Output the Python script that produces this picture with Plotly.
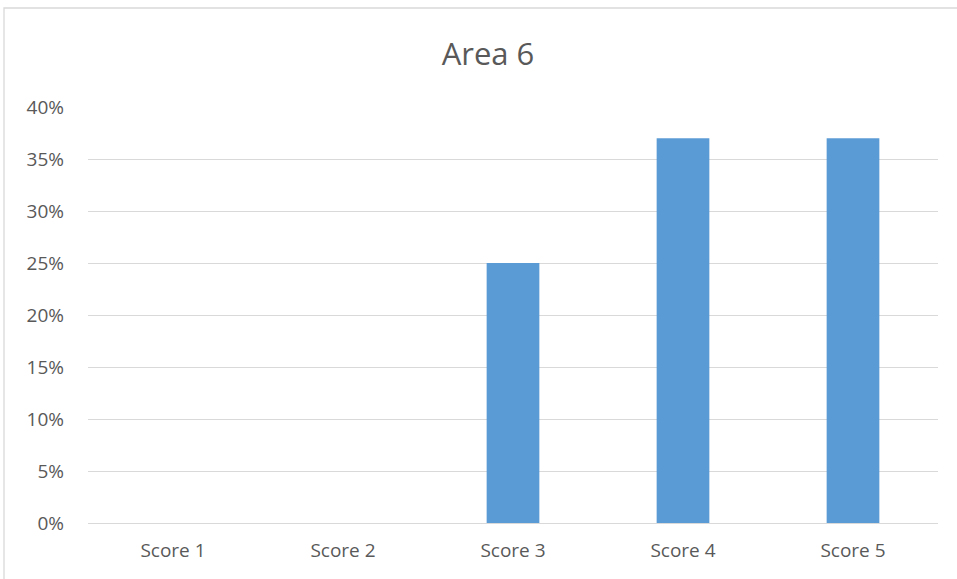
import plotly.graph_objects as go

categories = ["Score 1", "Score 2", "Score 3", "Score 4", "Score 5"]
values = [0.0, 0.0, 0.25, 0.37, 0.37]
tick_vals = [0, 0.05, 0.10, 0.15, 0.20, 0.25, 0.30, 0.35, 0.40]
tick_text = ["0%", "5%", "10%", "15%", "20%", "25%", "30%", "35%", "40%"]

W, H = 957, 579
L, R, T, B = 88, 19, 107, 56
pw, ph = W - L - R, H - T - B

def px(x):
    return (x - L) / pw

def py(y):
    return (H - B - y) / ph

fig = go.Figure(go.Bar(x=categories, y=values, marker=dict(color="#5B9BD5", line=dict(width=0))))

fig.update_layout(
    width=W, height=H,
    margin=dict(l=L, r=R, t=T, b=B),
    paper_bgcolor="white", plot_bgcolor="white",
    bargap=0.69,
    showlegend=False,
    font=dict(family="Open Sans, Liberation Sans, sans-serif", color="#595959", size=19),
    title=dict(text="Area 6", x=488 / W, xanchor="center", y=1 - 54 / H, yanchor="middle",
               font=dict(size=31, color="#595959")),
    xaxis=dict(showgrid=False, showline=False, ticks="", ticklabelstandoff=14,
               tickfont=dict(size=19, color="#595959")),
    yaxis=dict(range=[0, 0.4], tickvals=tick_vals, ticktext=tick_text, showgrid=True,
               gridcolor="#D9D9D9", gridwidth=1.3, zeroline=True, zerolinecolor="#D9D9D9",
               zerolinewidth=1.3, showline=False, ticks="", ticklabelstandoff=23,
               tickfont=dict(size=19, color="#595959")),
    shapes=[dict(type="rect", xref="paper", yref="paper",
                 x0=px(4), x1=px(W + 5), y0=py(H + 5), y1=py(8),
                 line=dict(color="#D9D9D9", width=1.3), fillcolor="rgba(0,0,0,0)", layer="below")],
)

fig.write_html("out.html")
